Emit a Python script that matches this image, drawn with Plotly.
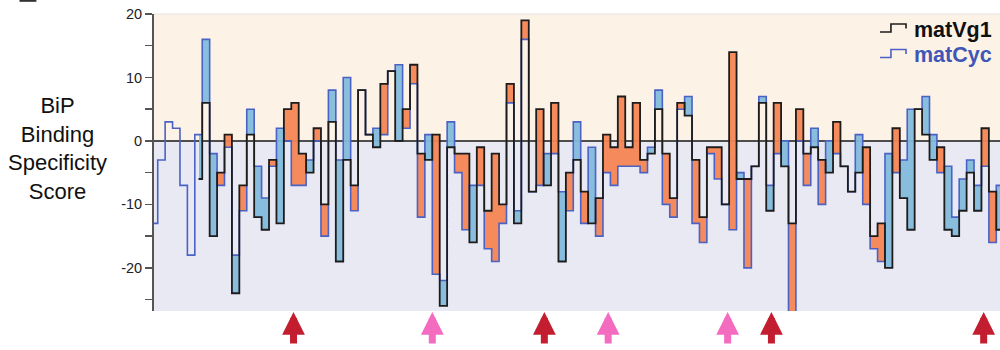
import plotly.graph_objects as go

# ---------------- data ----------------
positions = list(range(115))
mat_cyc = [-13, -3, 3, 2, -7, -18, 1, 16, -2, -7,
           -1, -18, -11, 5, -4, -9, -4, 2, 0, -7,
           -7, -3, 0, -15, 8, -3, 10, -11, 8, 1,
           2, 1, 11, 12, 2, 9, -12, 1, -21, -22,
           3, -5, -14, -7, -7, -17, -19, -13, 6, -11,
           16, -8, -7, -2, -2, -8, -11, 3, -13, -1,
           -15, -5, -7, -4, -4, -4, -5, -1, 8, -10,
           -12, 5, 7, -13, -16, -2, -6, -10, -14, -5,
           -20, -4, 7, -7, -2, 0, -27, 0, -7, 2,
           -10, 0, -2, -4, -8, 1, -10, -17, -19, -2,
           -5, -3, 5, 5, 7, 1, -5, -4, -12, -6,
           -3, -7, -4, -16, -7]
mat_vg1 = [None, None, None, None, None, None, -6, 6, -15, -5,
           1, -24, -7, 1, -12, -14, -3, -13, 5, 6,
           -2, -5, 2, -10, 3, -19, -3, -7, 8, 1,
           -1, 9, 11, 0, 5, 12, -2, -3, 1, -26,
           -1, -2, -2, -16, -1, -11, -2, -10, 9, -13,
           19, -8, 5, -7, 6, -19, -5, -3, -8, -13,
           -9, 1, -1, 7, -1, 6, -3, -2, 5, -2,
           -9, 6, 4, -3, -12, -1, -1, -10, 14, -6,
           -6, -4, 6, -11, 6, -4, -13, 5, -2, -1,
           -3, -5, 3, -4, -8, -5, -1, -15, -13, -20,
           2, -9, -14, 5, 1, -3, -1, -14, -15, -11,
           -5, -11, 2, -8, -14]
arrow_pos = [18.8, 37.5, 52.6, 61.2, 77.3, 83.2, 111.8]
arrow_kind = ["red", "pink", "red", "pink", "pink", "red", "red"]
series_names = ["matVg1", "matCyc"]
y_ticks = [-25, -20, -15, -10, -5, 0, 5, 10, 15, 20]
y_labels = ["", "-20", "", "-10", "", "0", "", "10", "", "20"]

# ---------------- styling ----------------
C_ORANGE = "rgba(245,133,84,0.95)"
C_BLUE = "rgba(132,186,220,0.95)"
C_VG1 = "#1c1c1c"
C_CYC = "#4a62c6"
C_RED = "#c21e30"
C_PINK = "#f36cbf"
FONT = "Liberation Sans, Arial, Helvetica, sans-serif"

Y_MIN, Y_MAX = -26.8, 20

# fill between the two step lines (one bar per aligned residue)
valid = [i for i in positions if mat_vg1[i] is not None]
first, last = valid[0], valid[-1]
bx, bbase, bh, bcol, bw, boff = [], [], [], [], [], []
for i in valid:
    a, b = mat_vg1[i], mat_cyc[i]
    if a == b:
        continue
    bx.append(i)
    bbase.append(min(a, b))
    bh.append(abs(a - b))
    bcol.append(C_ORANGE if a > b else C_BLUE)
    if i == first:
        bw.append(0.5); boff.append(0.0)
    elif i == last:
        bw.append(0.5); boff.append(-0.5)
    else:
        bw.append(1.0); boff.append(-0.5)

fig = go.Figure()
fig.add_trace(go.Bar(x=bx, y=bh, base=bbase, width=bw, offset=boff,
                     marker=dict(color=bcol, line=dict(width=0)),
                     showlegend=False, hoverinfo="skip"))
fig.add_trace(go.Scatter(x=positions, y=mat_cyc, mode="lines",
                         line=dict(shape="hvh", color=C_CYC, width=1.6),
                         name=series_names[1], showlegend=False))
fig.add_trace(go.Scatter(x=positions, y=mat_vg1, mode="lines",
                         line=dict(shape="hvh", color=C_VG1, width=1.8),
                         name=series_names[0], showlegend=False,
                         connectgaps=False))

shapes = [
    dict(type="rect", xref="paper", yref="y", x0=0, x1=1, y0=0, y1=Y_MAX,
         fillcolor="#fdf2e6", line=dict(width=0), layer="below"),
    dict(type="rect", xref="paper", yref="y", x0=0, x1=1, y0=Y_MIN, y1=0,
         fillcolor="#e9e9f3", line=dict(width=0), layer="below"),
    dict(type="line", xref="paper", yref="paper", x0=0, x1=1, y0=1, y1=1,
         line=dict(color="#e4e4e4", width=1), layer="below"),
    # cropped panel label at the very top-left
    dict(type="rect", xref="paper", yref="paper", x0=-0.159, x1=-0.139,
         y0=1.041, y1=1.06, fillcolor="#333333", line=dict(width=0)),
]

# legend step icons (paper coordinates)
def step_icon(y_low, y_high, color):
    x0, x1, x2 = 0.8582, 0.8711, 0.8889
    y_end = y_high - (y_high - y_low) * 0.55
    path = (f"M{x0},{y_low} L{x1},{y_low} L{x1},{y_high} "
            f"L{x2},{y_high} L{x2},{y_end}")
    return dict(type="path", xref="paper", yref="paper", path=path,
                line=dict(color=color, width=1.6))

shapes.append(step_icon(0.9394, 0.9663, C_VG1))
shapes.append(step_icon(0.8535, 0.8805, C_CYC))

annotations = [
    dict(text="BiP<br>Binding<br>Specificity<br>Score", xref="paper",
         yref="paper", x=-0.1135, y=0.547, xanchor="center",
         yanchor="middle", showarrow=False,
         font=dict(family=FONT, size=22, color="#111111")),
    dict(text="<b>" + series_names[0] + "</b>", xref="paper", yref="paper",
         x=0.993, y=0.946, xanchor="right", yanchor="middle",
         showarrow=False, font=dict(family=FONT, size=21.5, color="#111111")),
    dict(text="<b>" + series_names[1] + "</b>", xref="paper", yref="paper",
         x=0.993, y=0.862, xanchor="right", yanchor="middle",
         showarrow=False, font=dict(family=FONT, size=21.5, color="#3f56b6")),
]
for xp, kind in zip(arrow_pos, arrow_kind):
    col = C_RED if kind == "red" else C_PINK
    annotations.append(dict(
        x=xp, y=-0.0034, xref="x", yref="paper", text="", showarrow=True,
        ax=0, ay=33, axref="pixel", ayref="pixel",
        arrowhead=2, arrowsize=0.65, arrowwidth=7, arrowcolor=col,
        standoff=0))

fig.update_layout(
    width=1000, height=350,
    margin=dict(l=154, r=0, t=14, b=39),
    paper_bgcolor="white", plot_bgcolor="white",
    barmode="overlay", bargap=0,
    shapes=shapes, annotations=annotations,
    showlegend=False, hovermode=False,
    xaxis=dict(range=[0, 114], visible=False, fixedrange=True),
    yaxis=dict(range=[Y_MIN, Y_MAX], tickvals=y_ticks, ticktext=y_labels,
               ticks="outside", ticklen=7, tickwidth=1.5, tickcolor="#555555",
               showline=True, linecolor="#555555", linewidth=2,
               showgrid=False, zeroline=True, zerolinecolor="#4d4d4d",
               zerolinewidth=1.6, ticklabeloverflow="allow", fixedrange=True,
               tickfont=dict(family=FONT, size=14.5, color="#222222")),
)

fig.write_html(
    "out.html",
    config={"displayModeBar": False, "staticPlot": True},
    post_script="document.body.style.margin='0';"
                "document.body.style.overflow='hidden';")
